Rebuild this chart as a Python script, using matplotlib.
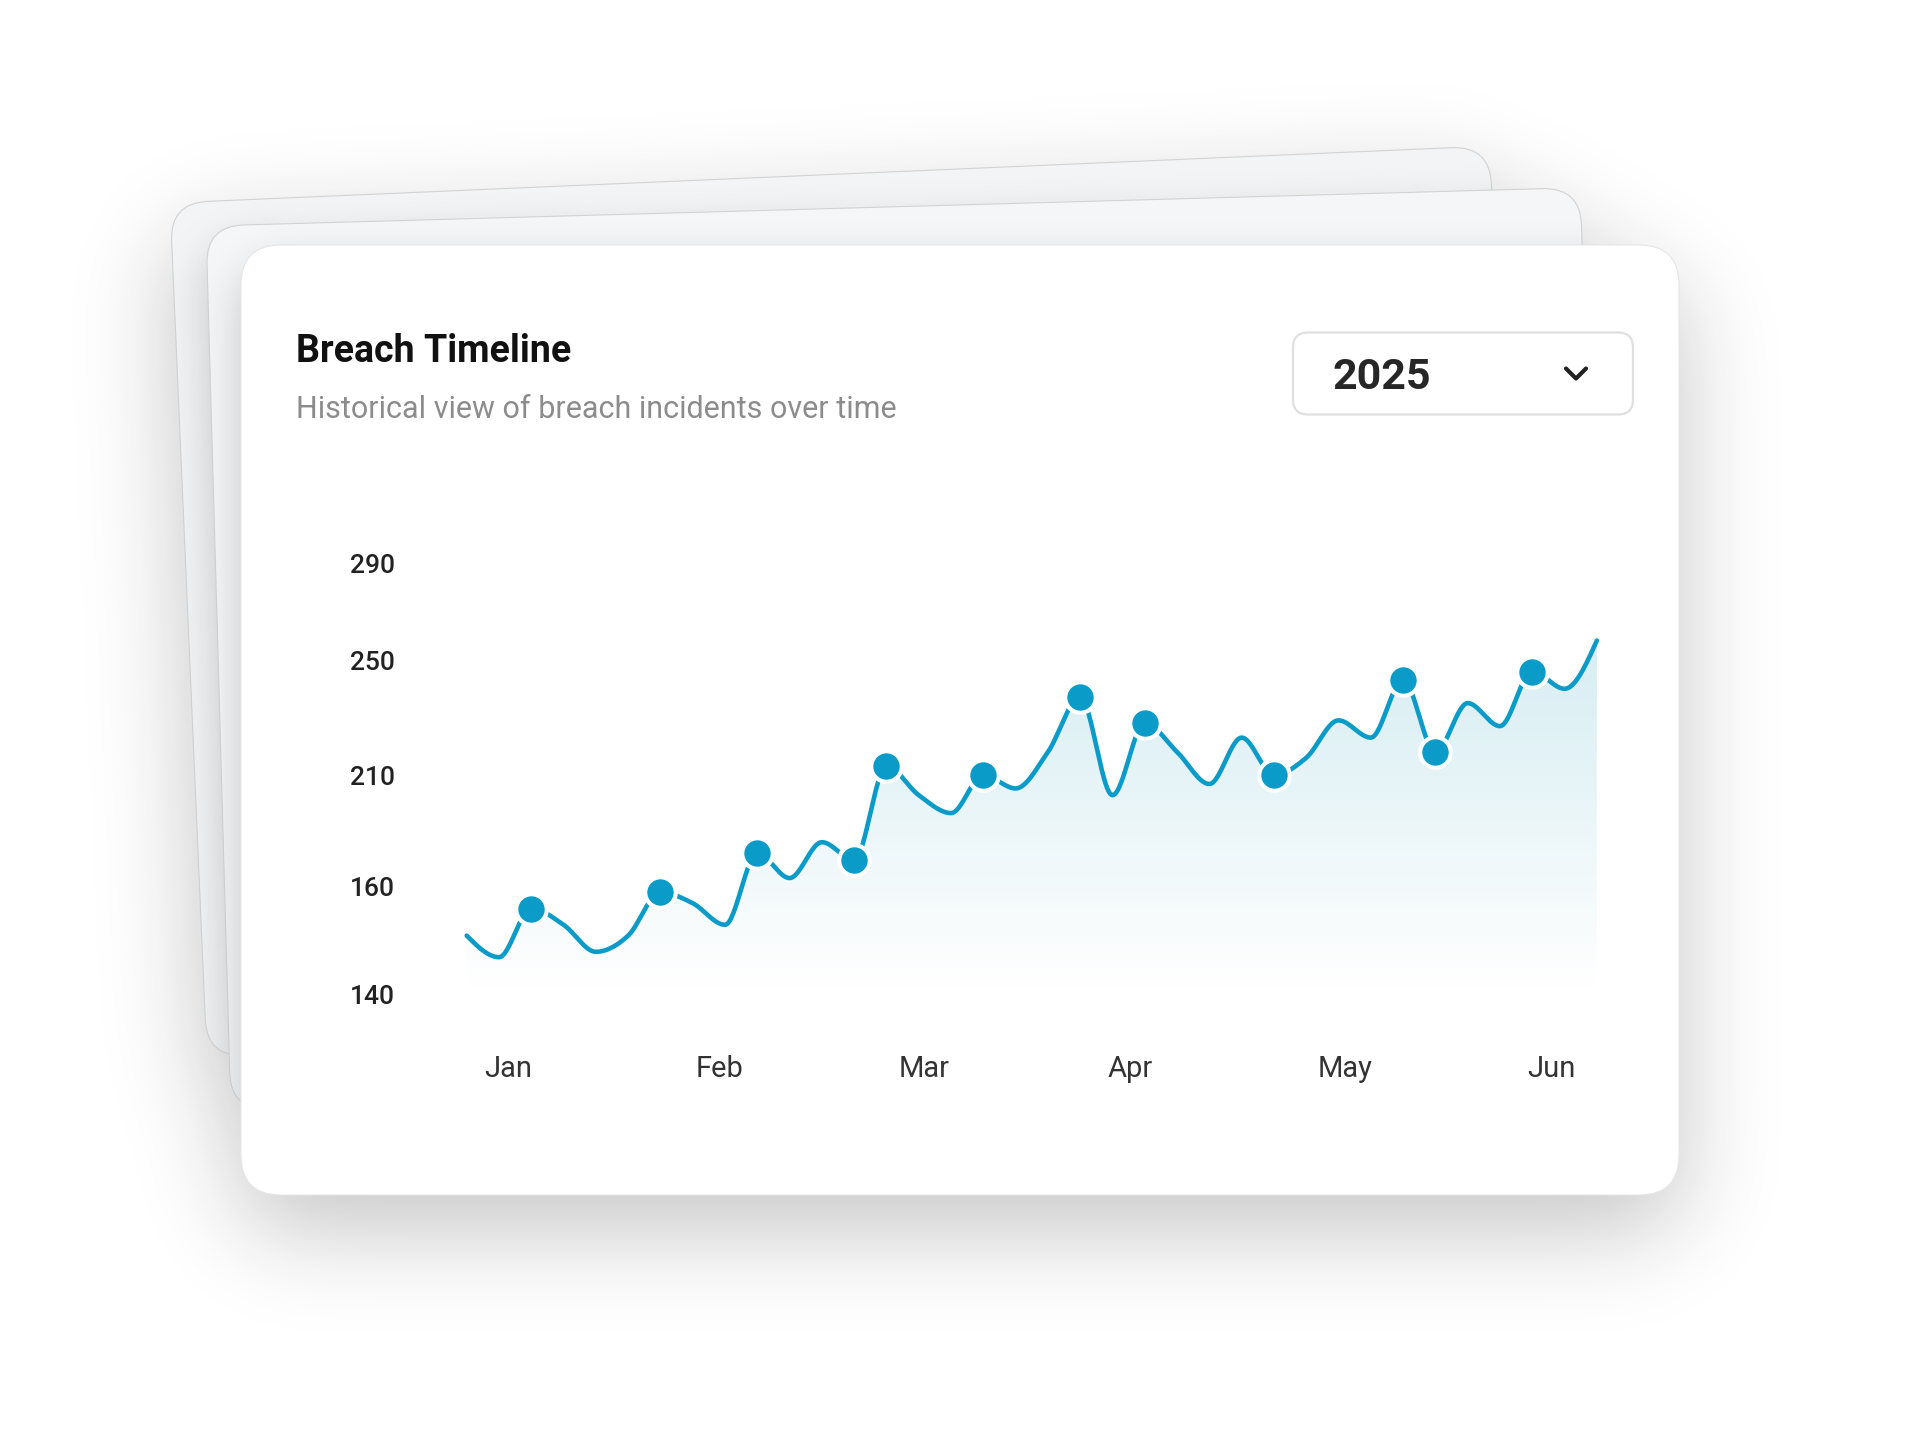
import numpy as np
import matplotlib
matplotlib.use("Agg")
import matplotlib.pyplot as plt
from matplotlib.patches import FancyBboxPatch
from matplotlib.transforms import Affine2D
from matplotlib.lines import Line2D
from matplotlib.path import Path

plt.rcParams['font.family'] = ['Roboto', 'DejaVu Sans']

# ---------------- data ----------------
title = "Breach Timeline"
subtitle = "Historical view of breach incidents over time"
year_label = "2025"
month_labels = ["Jan", "Feb", "Mar", "Apr", "May", "Jun"]
month_tick_pos = [1.28, 7.84, 14.16, 20.54, 27.2, 33.6]
incidents = [151, 147, 156, 153, 148, 151, 159, 157, 153, 175, 164, 180,
             172, 213, 201, 193, 210, 204, 218, 237, 201, 228, 218, 206,
             223, 210, 216, 229, 223, 243, 218, 235, 227, 246, 240, 258]
highlight_idx = [2, 6, 9, 12, 13, 16, 19, 21, 25, 29, 30, 33]
y_tick_values = [140, 160, 210, 250, 290]

# ---------------- layout / style ----------------
W, H = 1920, 1440
y_tick_px = [0, 108, 220, 335, 432]      # vertical spacing of the y ticks (px)
LINE = '#0a9bc9'
FILL = (8 / 255, 145 / 255, 178 / 255)

fig = plt.figure(figsize=(W / 100, H / 100), dpi=100)
fig.patch.set_facecolor('white')
bg = fig.add_axes([0, 0, 1, 1])
bg.set_xlim(0, W)
bg.set_ylim(H, 0)
bg.axis('off')

# cards: x0, y0 (top-left before rotation), w, h, angle (deg, image coords), radius
card3 = (170, 203, 1321, 855, -2.47, 38)
card2 = (206, 226, 1375, 885, -1.6, 38)
front = (241, 245, 1438, 950, 0.0, 40)

S = 4
gx = (np.arange(W // S) + 0.5) * S
gy = (np.arange(H // S) + 0.5) * S
GX, GY = np.meshgrid(gx, gy)


def card_mask(card, dx=0.0, dy=0.0):
    x0, y0, w, h, ang, r = card
    a = np.deg2rad(ang)
    px = GX - (x0 + dx)
    py = GY - (y0 + dy)
    u = px * np.cos(a) + py * np.sin(a)
    v = -px * np.sin(a) + py * np.cos(a)
    qx = np.abs(u - w / 2) - (w / 2 - r)
    qy = np.abs(v - h / 2) - (h / 2 - r)
    d = np.hypot(np.maximum(qx, 0), np.maximum(qy, 0)) + np.minimum(np.maximum(qx, qy), 0) - r
    return np.clip(0.5 - d / S, 0, 1)


def blur(img, sigma_px):
    sig = sigma_px / S
    pad = int(3 * sig) + 2
    P = np.pad(img, pad)
    fy = np.fft.fftfreq(P.shape[0])
    fx = np.fft.rfftfreq(P.shape[1])
    G = np.exp(-2 * np.pi ** 2 * sig ** 2 * (fy[:, None] ** 2 + fx[None, :] ** 2))
    out = np.fft.irfft2(np.fft.rfft2(P) * G, s=P.shape)
    return out[pad:-pad, pad:-pad]


def shadow_image(alpha, zorder, clip=None):
    rgba = np.zeros(alpha.shape + (4,))
    rgba[..., :3] = 0.1
    rgba[..., 3] = np.clip(alpha, 0, 1)
    im = bg.imshow(rgba, extent=[0, W, H, 0], interpolation='bilinear',
                   aspect='auto', zorder=zorder)
    if clip is not None:
        im.set_clip_path(clip)
    return im


def card_patch(card, face, edge, lw, zorder):
    x0, y0, w, h, ang, r = card
    p = FancyBboxPatch((x0, y0), w, h, boxstyle=f"round,pad=0,rounding_size={r}",
                       facecolor=face, edgecolor=edge, linewidth=lw, zorder=zorder,
                       transform=Affine2D().rotate_deg_around(x0, y0, ang) + bg.transData)
    bg.add_patch(p)
    return p


# ambient shadow of the stack
union = np.maximum(np.maximum(card_mask(card3, 0, 35), card_mask(card2, 0, 35)), card_mask(front, 0, 35))
shadow_image(0.25 * blur(union, 48), 1)

p3 = card_patch(card3, '#f3f4f5', '#d2d2d2', 0.8, 2)
shadow_image(0.22 * blur(card_mask(card2, 0, 22), 22), 3, clip=p3)
p2 = card_patch(card2, '#f5f6f7', '#d2d2d2', 0.8, 4)
shadow_image(0.22 * blur(card_mask(front, 0, 22), 22), 5, clip=p2)
pf = card_patch(front, 'white', '#e6e6e6', 0.8, 6)

# header texts
bg.text(296, 361.7, title, fontsize=27, fontweight='bold', color='#111111',
        va='baseline', ha='left', zorder=8)
bg.text(296, 418.3, subtitle, fontsize=22, color='#8c8c8c',
        va='baseline', ha='left', zorder=8)

# dropdown
dd = FancyBboxPatch((1293, 332.5), 340, 82, boxstyle="round,pad=0,rounding_size=15",
                    facecolor='white', edgecolor='#e0e0e0', linewidth=1.6, zorder=7)
bg.add_patch(dd)
bg.text(1332.7, 389, year_label, fontsize=31, fontweight='semibold', color='#262626',
        va='baseline', ha='left', zorder=8)
bg.add_line(Line2D([1566, 1576, 1586], [368.5, 378.5, 368.5], color='#222222', lw=3.0,
                   solid_capstyle='round', solid_joinstyle='round', zorder=8))

# ---------------- chart axes ----------------
x_first_px, x_step_px = 466.7, 32.29
xlim = (-2.0, 36.6)
ax_left = x_first_px + xlim[0] * x_step_px
ax_right = x_first_px + xlim[1] * x_step_px
ax_bottom, ax_top = 995.0, 563.0
ax = fig.add_axes([ax_left / W, (H - ax_bottom) / H, (ax_right - ax_left) / W, (ax_bottom - ax_top) / H])
ax.patch.set_alpha(0)


def _interp_ext(v, xp, fp):
    v = np.asarray(v, float)
    xp = np.asarray(xp, float)
    fp = np.asarray(fp, float)
    out = np.interp(v, xp, fp)
    out = np.where(v < xp[0], fp[0] + (v - xp[0]) * (fp[1] - fp[0]) / (xp[1] - xp[0]), out)
    out = np.where(v > xp[-1], fp[-1] + (v - xp[-1]) * (fp[-1] - fp[-2]) / (xp[-1] - xp[-2]), out)
    return out


def fwd(v):
    return _interp_ext(v, y_tick_values, y_tick_px)


def inv(t):
    return _interp_ext(t, y_tick_px, y_tick_values)


ax.set_yscale('function', functions=(fwd, inv))
ax.set_xlim(*xlim)
ax.set_ylim(y_tick_values[0], y_tick_values[-1])


def monotone_curve(x, y, n=30):
    x = np.asarray(x, float)
    y = np.asarray(y, float)
    h = np.diff(x)
    s = np.diff(y) / h
    m = np.zeros_like(y)
    for i in range(1, len(y) - 1):
        h0, h1, s0, s1 = h[i - 1], h[i], s[i - 1], s[i]
        p = (s0 * h1 + s1 * h0) / (h0 + h1)
        m[i] = (np.sign(s0) + np.sign(s1)) * min(abs(s0), abs(s1), 0.5 * abs(p))
    m[0] = (3 * s[0] - m[1]) / 2
    m[-1] = (3 * s[-1] - m[-2]) / 2
    xs, ys = [], []
    for i in range(len(y) - 1):
        t = np.linspace(0, 1, n, endpoint=(i == len(y) - 2))
        hh = h[i]
        h00 = 2 * t ** 3 - 3 * t ** 2 + 1
        h10 = t ** 3 - 2 * t ** 2 + t
        h01 = -2 * t ** 3 + 3 * t ** 2
        h11 = t ** 3 - t ** 2
        ys.append(h00 * y[i] + h10 * hh * m[i] + h01 * y[i + 1] + h11 * hh * m[i + 1])
        xs.append(x[i] + t * hh)
    return np.concatenate(xs), np.concatenate(ys)


xi = np.arange(len(incidents))
vals = np.asarray(incidents, float)
cx, ct = monotone_curve(xi, fwd(vals))
cy = inv(ct)

# gradient area (image in figure space clipped by the area under the curve)
verts = np.column_stack([np.r_[cx, cx[-1], cx[0]], np.r_[cy, y_tick_values[0], y_tick_values[0]]])
area_path = Path(verts, closed=False)
gy0, gy1 = 600, 1000
ys_img = np.linspace(gy0, gy1, 200)
a = 0.165 * np.clip((ax_bottom - ys_img) / (ax_bottom - 640), 0, 1)
grad = np.zeros((200, 2, 4))
grad[..., :3] = FILL
grad[..., 3] = a[:, None]
gim = bg.imshow(grad, extent=[x_first_px - 5, ax_right, gy1, gy0], interpolation='bilinear',
                aspect='auto', zorder=7)
gim.set_clip_path(area_path, ax.transData)
bg.set_xlim(0, W)
bg.set_ylim(H, 0)

ax.plot(cx, cy, color=LINE, lw=3.3, solid_capstyle='round', zorder=3, clip_on=False)
ax.plot(xi[highlight_idx], vals[highlight_idx], 'o', ms=22, mfc=LINE, mec='white', mew=3,
        zorder=4, clip_on=False)

for sp in ax.spines.values():
    sp.set_visible(False)
ax.set_yticks(y_tick_values)
ax.set_yticklabels([str(v) for v in y_tick_values])
ax.yaxis.set_minor_locator(matplotlib.ticker.NullLocator())
ax.set_xticks(month_tick_pos)
ax.set_xticklabels(month_labels)
ax.tick_params(axis='y', length=0, pad=5, labelsize=19, labelcolor='#222222')
ax.tick_params(axis='x', length=0, pad=43, labelsize=21, labelcolor='#333333')
for lab in ax.get_yticklabels():
    lab.set_fontweight('medium')

fig.savefig('out.png', dpi=100, facecolor='white')
